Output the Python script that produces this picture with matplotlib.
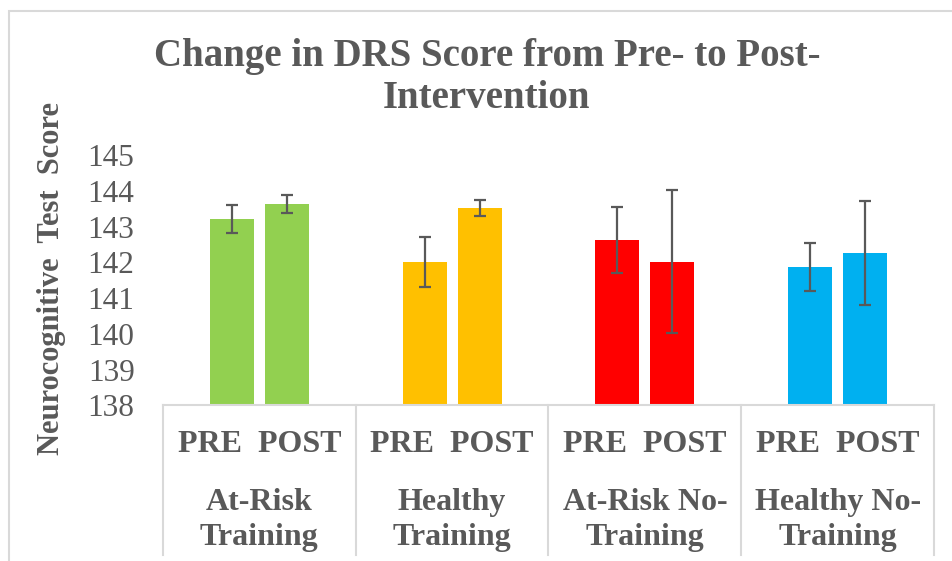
import numpy as np
import matplotlib.pyplot as plt
from matplotlib.patches import Rectangle
from matplotlib.transforms import blended_transform_factory

groups = ['At-Risk\nTraining', 'Healthy\nTraining', 'At-Risk No-\nTraining', 'Healthy No-\nTraining']
phases = ['PRE', 'POST']
pre_mean = [143.21, 142.01, 142.62, 141.87]
post_mean = [143.63, 143.52, 142.01, 142.26]
pre_err = [0.38, 0.69, 0.93, 0.67]
post_err = [0.25, 0.23, 2.0, 1.45]
colors = ['#92D050', '#FFC000', '#FF0000', '#00B0F0']
yticks = [138, 139, 140, 141, 142, 143, 144, 145]

gray = '#595959'
light = '#D9D9D9'
plt.rcParams['font.family'] = ['Liberation Serif', 'DejaVu Serif']

fig = plt.figure(figsize=(9.53, 5.61), dpi=100)
ax = fig.add_axes([163 / 953, 1 - 405.3 / 561, (934 - 163) / 953, (405.3 - 155) / 561])

x = np.arange(len(groups))
w = 0.228
off = 0.143
ekw = dict(ecolor=gray, elinewidth=1.6, capsize=4.5, capthick=1.6)
ax.bar(x - off, np.array(pre_mean) - 138, w, bottom=138, color=colors,
       yerr=pre_err, error_kw=ekw)
ax.bar(x + off, np.array(post_mean) - 138, w, bottom=138, color=colors,
       yerr=post_err, error_kw=ekw)

ax.set_xlim(-0.5, len(groups) - 0.5)
ax.set_ylim(138, 145)
ax.set_yticks(yticks)
ax.set_yticklabels([str(t) for t in yticks], fontsize=22.5, color=gray)
ax.tick_params(axis='y', length=0, pad=20.5)
ax.set_xticks([])
for s in ['left', 'right', 'top']:
    ax.spines[s].set_visible(False)
ax.spines['bottom'].set_color(light)
ax.spines['bottom'].set_linewidth(1.5)

# category separators and two-level labels
tr = blended_transform_factory(ax.transData, ax.transAxes)
for b in np.arange(len(groups) + 1) - 0.5:
    ax.plot([b, b], [0, -0.6], transform=tr, color=light, lw=1.5, clip_on=False)
for i, g in enumerate(groups):
    ax.text(i, -(444 - 405.3) / 250.3, '  '.join(phases), transform=tr,
            ha='center', va='center', fontsize=23, fontweight='bold', color=gray)
    ax.text(i, -(520 - 405.3) / 250.3, g, transform=tr, ha='center', va='center',
            fontsize=23, fontweight='bold', color=gray, linespacing=1.25)

ax.set_ylabel('Neurocognitive  Test  Score', fontsize=22, fontweight='bold', color=gray)
ax.yaxis.set_label_coords(-(163 - 66) / 771, 0.5 - (278 - 280) / 250.3)

fig.text(487 / 953, 1 - 38 / 561, 'Change in DRS Score from Pre- to Post-\nIntervention',
         ha='center', va='top', fontsize=28, fontweight='bold', color=gray, linespacing=1.18)

fig.patches.append(Rectangle((9 / 953, -0.1), 1.2, 1 - 11 / 561 + 0.1, transform=fig.transFigure,
                             fill=False, edgecolor=light, lw=1.5))

fig.savefig('out.png', dpi=100)
